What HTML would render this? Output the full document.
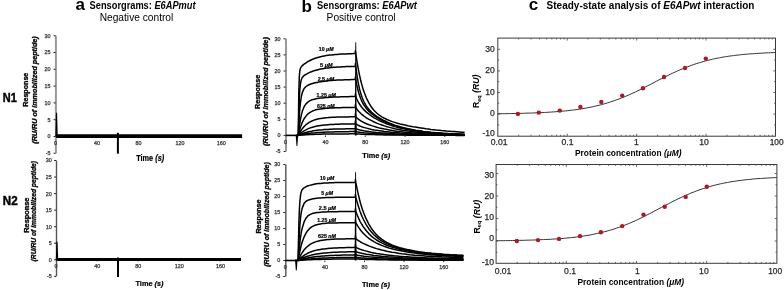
<!DOCTYPE html>
<html><head><meta charset="utf-8"><style>
html,body{margin:0;padding:0;background:#fff;}
body{width:784px;height:290px;overflow:hidden;position:relative;}
svg{display:block;position:absolute;left:0;top:0;font-family:"Liberation Sans", sans-serif;}
#m{filter:grayscale(1);}
</style></head><body>
<svg id="m" width="784" height="290" viewBox="0 0 784 290">
<rect width="784" height="290" fill="#fff"/>
<text x="75.6" y="10" font-size="17" font-weight="bold">a</text>
<text x="301.6" y="11.7" font-size="17" font-weight="bold">b</text>
<text x="528.7" y="10" font-size="17" font-weight="bold">c</text>
<text x="89.6" y="8.9" font-size="10.2" font-weight="bold" textLength="106" lengthAdjust="spacingAndGlyphs">Sensorgrams: <tspan font-style="italic">E6APmut</tspan></text>
<text x="99.7" y="21.1" font-size="10.2" textLength="73.6" lengthAdjust="spacingAndGlyphs">Negative control</text>
<text x="317.1" y="8.9" font-size="10.2" font-weight="bold" textLength="99.8" lengthAdjust="spacingAndGlyphs">Sensorgrams: <tspan font-style="italic">E6APwt</tspan></text>
<text x="326.6" y="21.1" font-size="10.2" textLength="69" lengthAdjust="spacingAndGlyphs">Positive control</text>
<text x="546.6" y="9" font-size="10.2" font-weight="bold" textLength="207.8" lengthAdjust="spacingAndGlyphs">Steady-state analysis of <tspan font-style="italic">E6APwt</tspan> interaction</text>
<text x="2.8" y="102" font-size="12.4" font-weight="bold" textLength="14" lengthAdjust="spacingAndGlyphs" stroke="#000" stroke-width="0.45">N1</text>
<text x="2.8" y="205.2" font-size="12.2" font-weight="bold" textLength="14.8" lengthAdjust="spacingAndGlyphs" stroke="#000" stroke-width="0.45">N2</text>
<line x1="55.9" y1="35.7" x2="55.9" y2="153.3" stroke="#999" stroke-width="2.0"/>
<line x1="53.6" y1="153.3" x2="55.6" y2="153.3" stroke="#222" stroke-width="1.0"/>
<text x="50.6" y="155.2" font-size="5.4" text-anchor="end" fill="#333" stroke="#333" stroke-width="0.25">-5</text>
<line x1="53.6" y1="136.5" x2="55.6" y2="136.5" stroke="#222" stroke-width="1.0"/>
<text x="50.6" y="138.4" font-size="5.4" text-anchor="end" fill="#333" stroke="#333" stroke-width="0.25">0</text>
<line x1="53.6" y1="119.7" x2="55.6" y2="119.7" stroke="#222" stroke-width="1.0"/>
<text x="50.6" y="121.6" font-size="5.4" text-anchor="end" fill="#333" stroke="#333" stroke-width="0.25">5</text>
<line x1="53.6" y1="102.9" x2="55.6" y2="102.9" stroke="#222" stroke-width="1.0"/>
<text x="50.6" y="104.8" font-size="5.4" text-anchor="end" fill="#333" stroke="#333" stroke-width="0.25">10</text>
<line x1="53.6" y1="86.1" x2="55.6" y2="86.1" stroke="#222" stroke-width="1.0"/>
<text x="50.6" y="88" font-size="5.4" text-anchor="end" fill="#333" stroke="#333" stroke-width="0.25">15</text>
<line x1="53.6" y1="69.3" x2="55.6" y2="69.3" stroke="#222" stroke-width="1.0"/>
<text x="50.6" y="71.2" font-size="5.4" text-anchor="end" fill="#333" stroke="#333" stroke-width="0.25">20</text>
<line x1="53.6" y1="52.5" x2="55.6" y2="52.5" stroke="#222" stroke-width="1.0"/>
<text x="50.6" y="54.4" font-size="5.4" text-anchor="end" fill="#333" stroke="#333" stroke-width="0.25">25</text>
<line x1="53.6" y1="35.7" x2="55.6" y2="35.7" stroke="#222" stroke-width="1.0"/>
<text x="50.6" y="37.6" font-size="5.4" text-anchor="end" fill="#333" stroke="#333" stroke-width="0.25">30</text>
<text x="55.6" y="145.1" font-size="5.4" text-anchor="middle" fill="#333" stroke="#333" stroke-width="0.25">0</text>
<line x1="97.04" y1="136.5" x2="97.04" y2="138.1" stroke="#222" stroke-width="0.9"/>
<text x="97.04" y="145.1" font-size="5.4" text-anchor="middle" fill="#333" stroke="#333" stroke-width="0.25">40</text>
<line x1="138.48" y1="136.5" x2="138.48" y2="138.1" stroke="#222" stroke-width="0.9"/>
<text x="138.48" y="145.1" font-size="5.4" text-anchor="middle" fill="#333" stroke="#333" stroke-width="0.25">80</text>
<line x1="179.92" y1="136.5" x2="179.92" y2="138.1" stroke="#222" stroke-width="0.9"/>
<text x="179.92" y="145.1" font-size="5.4" text-anchor="middle" fill="#333" stroke="#333" stroke-width="0.25">120</text>
<line x1="221.36" y1="136.5" x2="221.36" y2="138.1" stroke="#222" stroke-width="0.9"/>
<text x="221.36" y="145.1" font-size="5.4" text-anchor="middle" fill="#333" stroke="#333" stroke-width="0.25">160</text>
<path d="M55.33,136.50 L57.73,136.50 L57.08,112.80 L55.98,112.80 Z" fill="#000"/>
<path d="M56.1,136.1 242.1,136.1" fill="none" stroke="#000" stroke-width="3.6" stroke-linejoin="round"/>
<line x1="117.9" y1="132.8" x2="117.9" y2="153.7" stroke="#000" stroke-width="2.0"/>
<text x="136.2" y="161" font-size="8.2" font-weight="bold" textLength="28" lengthAdjust="spacingAndGlyphs" stroke="#000" stroke-width="0.2">Time <tspan font-style="italic">(s)</tspan></text>
<text x="28" y="89.7" font-size="6.5" font-weight="bold" text-anchor="middle" transform="rotate(-90 28 89.7)" textLength="34" lengthAdjust="spacingAndGlyphs" stroke="#000" stroke-width="0.3">Response</text>
<text x="36.6" y="90" font-size="6.5" font-weight="bold" font-style="italic" text-anchor="middle" transform="rotate(-90 36.6 90)" textLength="107.5" lengthAdjust="spacingAndGlyphs" stroke="#000" stroke-width="0.3">(RU/RU of immobilized peptide)</text>
<line x1="56.5" y1="160.5" x2="56.5" y2="276.35" stroke="#555" stroke-width="1.4"/>
<line x1="54.1" y1="276.35" x2="56.1" y2="276.35" stroke="#222" stroke-width="1.0"/>
<text x="51.7" y="278.25" font-size="5.4" text-anchor="end" fill="#333" stroke="#333" stroke-width="0.25">-5</text>
<line x1="54.1" y1="259.8" x2="56.1" y2="259.8" stroke="#222" stroke-width="1.0"/>
<text x="51.7" y="261.7" font-size="5.4" text-anchor="end" fill="#333" stroke="#333" stroke-width="0.25">0</text>
<line x1="54.1" y1="243.25" x2="56.1" y2="243.25" stroke="#222" stroke-width="1.0"/>
<text x="51.7" y="245.15" font-size="5.4" text-anchor="end" fill="#333" stroke="#333" stroke-width="0.25">5</text>
<line x1="54.1" y1="226.7" x2="56.1" y2="226.7" stroke="#222" stroke-width="1.0"/>
<text x="51.7" y="228.6" font-size="5.4" text-anchor="end" fill="#333" stroke="#333" stroke-width="0.25">10</text>
<line x1="54.1" y1="210.15" x2="56.1" y2="210.15" stroke="#222" stroke-width="1.0"/>
<text x="51.7" y="212.05" font-size="5.4" text-anchor="end" fill="#333" stroke="#333" stroke-width="0.25">15</text>
<line x1="54.1" y1="193.6" x2="56.1" y2="193.6" stroke="#222" stroke-width="1.0"/>
<text x="51.7" y="195.5" font-size="5.4" text-anchor="end" fill="#333" stroke="#333" stroke-width="0.25">20</text>
<line x1="54.1" y1="177.05" x2="56.1" y2="177.05" stroke="#222" stroke-width="1.0"/>
<text x="51.7" y="178.95" font-size="5.4" text-anchor="end" fill="#333" stroke="#333" stroke-width="0.25">25</text>
<line x1="54.1" y1="160.5" x2="56.1" y2="160.5" stroke="#222" stroke-width="1.0"/>
<text x="51.7" y="162.4" font-size="5.4" text-anchor="end" fill="#333" stroke="#333" stroke-width="0.25">30</text>
<text x="56.1" y="268.4" font-size="5.4" text-anchor="middle" fill="#333" stroke="#333" stroke-width="0.25">0</text>
<line x1="97.18" y1="259.8" x2="97.18" y2="261.4" stroke="#222" stroke-width="0.9"/>
<text x="97.18" y="268.4" font-size="5.4" text-anchor="middle" fill="#333" stroke="#333" stroke-width="0.25">40</text>
<line x1="138.26" y1="259.8" x2="138.26" y2="261.4" stroke="#222" stroke-width="0.9"/>
<text x="138.26" y="268.4" font-size="5.4" text-anchor="middle" fill="#333" stroke="#333" stroke-width="0.25">80</text>
<line x1="179.34" y1="259.8" x2="179.34" y2="261.4" stroke="#222" stroke-width="0.9"/>
<text x="179.34" y="268.4" font-size="5.4" text-anchor="middle" fill="#333" stroke="#333" stroke-width="0.25">120</text>
<line x1="220.42" y1="259.8" x2="220.42" y2="261.4" stroke="#222" stroke-width="0.9"/>
<text x="220.42" y="268.4" font-size="5.4" text-anchor="middle" fill="#333" stroke="#333" stroke-width="0.25">160</text>
<path d="M55.82,259.80 L58.22,259.80 L57.57,241.80 L56.47,241.80 Z" fill="#000"/>
<path d="M56.6,259.4 241.0,259.4" fill="none" stroke="#000" stroke-width="3.0" stroke-linejoin="round"/>
<line x1="118" y1="257.5" x2="118" y2="277" stroke="#000" stroke-width="2.0"/>
<text x="135.5" y="286.2" font-size="7.0" font-weight="bold" textLength="28" lengthAdjust="spacingAndGlyphs" stroke="#000" stroke-width="0.2">Time <tspan font-style="italic">(s)</tspan></text>
<text x="28.8" y="215.2" font-size="6.5" font-weight="bold" text-anchor="middle" transform="rotate(-90 28.8 215.2)" textLength="35" lengthAdjust="spacingAndGlyphs" stroke="#000" stroke-width="0.3">Response</text>
<text x="36.4" y="211.2" font-size="6.5" font-weight="bold" font-style="italic" text-anchor="middle" transform="rotate(-90 36.4 211.2)" textLength="100.4" lengthAdjust="spacingAndGlyphs" stroke="#000" stroke-width="0.3">(RU/RU of immobilized peptide)</text>
<line x1="286" y1="38.8" x2="286" y2="151.5" stroke="#999" stroke-width="2.0"/>
<line x1="283.6" y1="151.5" x2="285.6" y2="151.5" stroke="#222" stroke-width="1.0"/>
<text x="280.6" y="153.4" font-size="5.4" text-anchor="end" fill="#333" stroke="#333" stroke-width="0.25">-5</text>
<line x1="283.6" y1="135.4" x2="285.6" y2="135.4" stroke="#222" stroke-width="1.0"/>
<text x="280.6" y="137.3" font-size="5.4" text-anchor="end" fill="#333" stroke="#333" stroke-width="0.25">0</text>
<line x1="283.6" y1="119.3" x2="285.6" y2="119.3" stroke="#222" stroke-width="1.0"/>
<text x="280.6" y="121.2" font-size="5.4" text-anchor="end" fill="#333" stroke="#333" stroke-width="0.25">5</text>
<line x1="283.6" y1="103.2" x2="285.6" y2="103.2" stroke="#222" stroke-width="1.0"/>
<text x="280.6" y="105.1" font-size="5.4" text-anchor="end" fill="#333" stroke="#333" stroke-width="0.25">10</text>
<line x1="283.6" y1="87.1" x2="285.6" y2="87.1" stroke="#222" stroke-width="1.0"/>
<text x="280.6" y="89" font-size="5.4" text-anchor="end" fill="#333" stroke="#333" stroke-width="0.25">15</text>
<line x1="283.6" y1="71" x2="285.6" y2="71" stroke="#222" stroke-width="1.0"/>
<text x="280.6" y="72.9" font-size="5.4" text-anchor="end" fill="#333" stroke="#333" stroke-width="0.25">20</text>
<line x1="283.6" y1="54.9" x2="285.6" y2="54.9" stroke="#222" stroke-width="1.0"/>
<text x="280.6" y="56.8" font-size="5.4" text-anchor="end" fill="#333" stroke="#333" stroke-width="0.25">25</text>
<line x1="283.6" y1="38.8" x2="285.6" y2="38.8" stroke="#222" stroke-width="1.0"/>
<text x="280.6" y="40.7" font-size="5.4" text-anchor="end" fill="#333" stroke="#333" stroke-width="0.25">30</text>
<text x="285.6" y="144" font-size="5.4" text-anchor="middle" fill="#333" stroke="#333" stroke-width="0.25">0</text>
<line x1="325.4" y1="135.4" x2="325.4" y2="137" stroke="#222" stroke-width="0.9"/>
<text x="325.4" y="144" font-size="5.4" text-anchor="middle" fill="#333" stroke="#333" stroke-width="0.25">40</text>
<line x1="365.2" y1="135.4" x2="365.2" y2="137" stroke="#222" stroke-width="0.9"/>
<text x="365.2" y="144" font-size="5.4" text-anchor="middle" fill="#333" stroke="#333" stroke-width="0.25">80</text>
<line x1="405" y1="135.4" x2="405" y2="137" stroke="#222" stroke-width="0.9"/>
<text x="405" y="144" font-size="5.4" text-anchor="middle" fill="#333" stroke="#333" stroke-width="0.25">120</text>
<line x1="444.8" y1="135.4" x2="444.8" y2="137" stroke="#222" stroke-width="0.9"/>
<text x="444.8" y="144" font-size="5.4" text-anchor="middle" fill="#333" stroke="#333" stroke-width="0.25">160</text>
<path d="M298.3,135.4 298.3,135.4 298.6,108.7 298.8,92.6 299.1,82.9 299.3,77.0 299.6,73.3 299.8,71.1 300.1,69.6 300.3,68.6 300.6,68.0 300.8,67.5 301.1,67.1 301.3,66.7 301.6,66.5 301.8,66.2 302.1,65.9 302.3,65.7 304.1,64.2 306.0,62.9 307.8,61.7 309.6,60.7 311.5,59.8 313.3,59.0 315.1,58.3 317.0,57.7 318.8,57.2 320.6,56.7 322.5,56.3 324.3,55.9 326.1,55.6 328.0,55.3 329.8,55.1 331.6,54.9 333.5,54.7 335.3,54.5 337.1,54.4 339.0,54.2 340.8,54.1 342.6,54.0 344.5,53.9 346.3,53.9 348.1,53.8 350.0,53.7 351.8,53.7 353.6,53.6 355.4,53.6 355.4,50.7 355.8,53.6 356.3,57.0 356.8,60.3 357.3,63.4 357.8,66.3 358.3,69.0 358.8,71.6 359.3,74.1 359.8,76.4 360.3,78.7 360.8,80.8 361.3,82.7 361.8,84.6 362.3,86.4 362.8,88.1 363.3,89.7 363.8,91.2 366.4,98.0 369.0,103.2 371.6,107.3 374.1,110.5 376.7,113.0 379.3,115.1 381.9,116.8 384.5,118.3 387.1,119.5 389.7,120.6 392.2,121.6 394.8,122.4 397.4,123.2 400.0,123.9 402.6,124.5 405.2,125.1 407.7,125.7 410.3,126.2 412.9,126.7 415.5,127.1 418.1,127.5 420.7,127.9 423.2,128.3 425.8,128.7 428.4,129.0 431.0,129.4 433.6,129.7 436.2,130.0 438.8,130.2 441.3,130.5 443.9,130.7 446.5,131.0 449.1,131.2 451.7,131.4 454.3,131.6 456.8,131.8 459.4,132.0 462.0,132.2 464.6,132.3" fill="none" stroke="#000" stroke-width="1.5" stroke-linejoin="round"/>
<path d="M298.3,135.4 298.3,135.4 298.6,122.3 298.8,112.1 299.1,104.3 299.3,98.3 299.6,93.6 299.8,89.9 300.1,87.1 300.3,84.9 300.6,83.1 300.8,81.7 301.1,80.6 301.3,79.7 301.6,79.0 301.8,78.4 302.1,77.9 302.3,77.4 304.1,75.5 306.0,74.3 307.8,73.3 309.6,72.4 311.5,71.7 313.3,71.0 315.1,70.4 317.0,69.9 318.8,69.5 320.6,69.1 322.5,68.7 324.3,68.4 326.1,68.1 328.0,67.9 329.8,67.7 331.6,67.5 333.5,67.3 335.3,67.2 337.1,67.1 339.0,67.0 340.8,66.9 342.6,66.8 344.5,66.7 346.3,66.6 348.1,66.6 350.0,66.5 351.8,66.5 353.6,66.5 355.4,66.4 355.4,63.5 355.8,66.4 356.3,70.4 356.8,74.1 357.3,77.4 357.8,80.4 358.3,83.1 358.8,85.6 359.3,87.8 359.8,89.9 360.3,91.8 360.8,93.5 361.3,95.1 361.8,96.6 362.3,98.0 362.8,99.2 363.3,100.4 363.8,101.5 366.4,106.1 369.0,109.5 371.6,112.2 374.1,114.4 376.7,116.3 379.3,118.0 381.9,119.4 384.5,120.8 387.1,122.0 389.7,123.1 392.2,124.1 394.8,125.1 397.4,125.9 400.0,126.7 402.6,127.4 405.2,128.1 407.7,128.7 410.3,129.2 412.9,129.7 415.5,130.2 418.1,130.6 420.7,131.0 423.2,131.4 425.8,131.7 428.4,132.0 431.0,132.3 433.6,132.5 436.2,132.8 438.8,133.0 441.3,133.2 443.9,133.4 446.5,133.5 449.1,133.7 451.7,133.8 454.3,134.0 456.8,134.1 459.4,134.2 462.0,134.3 464.6,134.4" fill="none" stroke="#000" stroke-width="1.5" stroke-linejoin="round"/>
<path d="M298.3,135.4 298.3,135.4 298.6,129.3 298.8,124.1 299.1,119.5 299.3,115.4 299.6,111.9 299.8,108.8 300.1,106.1 300.3,103.7 300.6,101.7 300.8,99.8 301.1,98.2 301.3,96.8 301.6,95.6 301.8,94.5 302.1,93.5 302.3,92.6 304.1,88.5 306.0,86.5 307.8,85.3 309.6,84.5 311.5,83.8 313.3,83.3 315.1,82.8 317.0,82.4 318.8,82.0 320.6,81.7 322.5,81.4 324.3,81.2 326.1,81.0 328.0,80.8 329.8,80.6 331.6,80.4 333.5,80.3 335.3,80.2 337.1,80.1 339.0,80.0 340.8,79.9 342.6,79.9 344.5,79.8 346.3,79.8 348.1,79.7 350.0,79.7 351.8,79.6 353.6,79.6 355.4,79.6 355.4,76.7 355.8,79.6 356.3,82.3 356.8,84.9 357.3,87.2 357.8,89.3 358.3,91.2 358.8,93.0 359.3,94.6 359.8,96.1 360.3,97.5 360.8,98.8 361.3,100.0 361.8,101.1 362.3,102.1 362.8,103.1 363.3,104.0 363.8,104.8 366.4,108.5 369.0,111.4 371.6,113.7 374.1,115.7 376.7,117.4 379.3,118.9 381.9,120.3 384.5,121.6 387.1,122.7 389.7,123.8 392.2,124.7 394.8,125.6 397.4,126.4 400.0,127.2 402.6,127.8 405.2,128.5 407.7,129.0 410.3,129.5 412.9,130.0 415.5,130.5 418.1,130.9 420.7,131.2 423.2,131.6 425.8,131.9 428.4,132.2 431.0,132.5 433.6,132.7 436.2,132.9 438.8,133.1 441.3,133.3 443.9,133.5 446.5,133.6 449.1,133.8 451.7,133.9 454.3,134.0 456.8,134.1 459.4,134.3 462.0,134.3 464.6,134.4" fill="none" stroke="#000" stroke-width="1.5" stroke-linejoin="round"/>
<path d="M298.3,135.4 298.3,135.4 298.6,132.9 298.8,130.7 299.1,128.5 299.3,126.6 299.6,124.7 299.8,123.0 300.1,121.5 300.3,120.0 300.6,118.6 300.8,117.3 301.1,116.2 301.3,115.1 301.6,114.0 301.8,113.1 302.1,112.2 302.3,111.3 304.1,106.7 306.0,103.9 307.8,102.1 309.6,100.9 311.5,100.0 313.3,99.4 315.1,99.0 317.0,98.6 318.8,98.3 320.6,98.1 322.5,97.9 324.3,97.7 326.1,97.5 328.0,97.4 329.8,97.3 331.6,97.2 333.5,97.1 335.3,97.0 337.1,96.9 339.0,96.9 340.8,96.8 342.6,96.8 344.5,96.7 346.3,96.7 348.1,96.7 350.0,96.6 351.8,96.6 353.6,96.6 355.4,96.6 355.4,93.7 355.8,96.6 356.3,97.8 356.8,99.0 357.3,100.1 357.8,101.1 358.3,102.0 358.8,102.9 359.3,103.8 359.8,104.5 360.3,105.3 360.8,106.0 361.3,106.7 361.8,107.3 362.3,107.9 362.8,108.5 363.3,109.1 363.8,109.6 366.4,112.1 369.0,114.2 371.6,116.1 374.1,117.8 376.7,119.2 379.3,120.6 381.9,121.8 384.5,122.9 387.1,124.0 389.7,124.9 392.2,125.8 394.8,126.6 397.4,127.3 400.0,128.0 402.6,128.6 405.2,129.1 407.7,129.6 410.3,130.1 412.9,130.5 415.5,130.9 418.1,131.3 420.7,131.6 423.2,132.0 425.8,132.2 428.4,132.5 431.0,132.7 433.6,133.0 436.2,133.2 438.8,133.3 441.3,133.5 443.9,133.7 446.5,133.8 449.1,133.9 451.7,134.1 454.3,134.2 456.8,134.3 459.4,134.4 462.0,134.4 464.6,134.5" fill="none" stroke="#000" stroke-width="1.5" stroke-linejoin="round"/>
<path d="M298.3,135.4 298.3,135.4 298.6,134.3 298.8,133.2 299.1,132.2 299.3,131.2 299.6,130.3 299.8,129.4 300.1,128.6 300.3,127.7 300.6,127.0 300.8,126.2 301.1,125.5 301.3,124.8 301.6,124.1 301.8,123.5 302.1,122.9 302.3,122.3 304.1,118.7 306.0,116.1 307.8,114.1 309.6,112.7 311.5,111.6 313.3,110.7 315.1,110.1 317.0,109.6 318.8,109.2 320.6,108.9 322.5,108.7 324.3,108.5 326.1,108.3 328.0,108.2 329.8,108.1 331.6,108.0 333.5,107.9 335.3,107.8 337.1,107.8 339.0,107.7 340.8,107.7 342.6,107.6 344.5,107.6 346.3,107.6 348.1,107.6 350.0,107.5 351.8,107.5 353.6,107.5 355.4,107.5 355.4,104.6 355.8,107.5 356.3,108.3 356.8,109.0 357.3,109.7 357.8,110.3 358.3,110.9 358.8,111.5 359.3,112.0 359.8,112.5 360.3,113.0 360.8,113.5 361.3,114.0 361.8,114.4 362.3,114.8 362.8,115.2 363.3,115.6 363.8,116.0 366.4,117.8 369.0,119.3 371.6,120.7 374.1,122.0 376.7,123.1 379.3,124.1 381.9,125.0 384.5,125.9 387.1,126.7 389.7,127.4 392.2,128.1 394.8,128.7 397.4,129.2 400.0,129.7 402.6,130.2 405.2,130.6 407.7,131.0 410.3,131.4 412.9,131.7 415.5,132.0 418.1,132.3 420.7,132.5 423.2,132.8 425.8,133.0 428.4,133.2 431.0,133.4 433.6,133.5 436.2,133.7 438.8,133.8 441.3,134.0 443.9,134.1 446.5,134.2 449.1,134.3 451.7,134.4 454.3,134.5 456.8,134.5 459.4,134.6 462.0,134.7 464.6,134.7" fill="none" stroke="#000" stroke-width="1.5" stroke-linejoin="round"/>
<path d="M298.3,135.4 298.3,135.4 298.6,134.9 298.8,134.4 299.1,133.9 299.3,133.4 299.6,133.0 299.8,132.5 300.1,132.1 300.3,131.7 300.6,131.3 300.8,130.9 301.1,130.5 301.3,130.1 301.6,129.7 301.8,129.4 302.1,129.0 302.3,128.7 304.1,126.5 306.0,124.7 307.8,123.3 309.6,122.1 311.5,121.2 313.3,120.4 315.1,119.8 317.0,119.2 318.8,118.8 320.6,118.5 322.5,118.2 324.3,117.9 326.1,117.7 328.0,117.6 329.8,117.4 331.6,117.3 333.5,117.2 335.3,117.2 337.1,117.1 339.0,117.0 340.8,117.0 342.6,117.0 344.5,116.9 346.3,116.9 348.1,116.9 350.0,116.8 351.8,116.8 353.6,116.8 355.4,116.8 355.4,113.9 355.8,116.8 356.3,117.3 356.8,117.8 357.3,118.2 357.8,118.7 358.3,119.1 358.8,119.5 359.3,119.8 359.8,120.2 360.3,120.5 360.8,120.8 361.3,121.1 361.8,121.4 362.3,121.7 362.8,122.0 363.3,122.2 363.8,122.5 366.4,123.7 369.0,124.7 371.6,125.6 374.1,126.4 376.7,127.2 379.3,127.9 381.9,128.5 384.5,129.1 387.1,129.6 389.7,130.1 392.2,130.5 394.8,130.9 397.4,131.3 400.0,131.6 402.6,131.9 405.2,132.2 407.7,132.5 410.3,132.7 412.9,132.9 415.5,133.1 418.1,133.3 420.7,133.5 423.2,133.6 425.8,133.8 428.4,133.9 431.0,134.0 433.6,134.2 436.2,134.3 438.8,134.4 441.3,134.4 443.9,134.5 446.5,134.6 449.1,134.7 451.7,134.7 454.3,134.8 456.8,134.8 459.4,134.9 462.0,134.9 464.6,135.0" fill="none" stroke="#000" stroke-width="1.5" stroke-linejoin="round"/>
<path d="M298.3,135.4 298.3,135.4 298.6,135.2 298.8,134.9 299.1,134.7 299.3,134.4 299.6,134.2 299.8,134.0 300.1,133.8 300.3,133.6 300.6,133.3 300.8,133.1 301.1,132.9 301.3,132.7 301.6,132.5 301.8,132.4 302.1,132.2 302.3,132.0 304.1,130.8 306.0,129.8 307.8,128.9 309.6,128.1 311.5,127.5 313.3,127.0 315.1,126.5 317.0,126.1 318.8,125.8 320.6,125.5 322.5,125.2 324.3,125.0 326.1,124.9 328.0,124.7 329.8,124.6 331.6,124.5 333.5,124.4 335.3,124.3 337.1,124.2 339.0,124.2 340.8,124.1 342.6,124.1 344.5,124.0 346.3,124.0 348.1,124.0 350.0,124.0 351.8,123.9 353.6,123.9 355.4,123.9 355.4,121.0 355.8,123.9 356.3,124.2 356.8,124.5 357.3,124.8 357.8,125.1 358.3,125.3 358.8,125.5 359.3,125.8 359.8,126.0 360.3,126.2 360.8,126.4 361.3,126.6 361.8,126.8 362.3,126.9 362.8,127.1 363.3,127.3 363.8,127.4 366.4,128.1 369.0,128.8 371.6,129.4 374.1,129.9 376.7,130.3 379.3,130.7 381.9,131.1 384.5,131.5 387.1,131.8 389.7,132.1 392.2,132.4 394.8,132.6 397.4,132.8 400.0,133.1 402.6,133.3 405.2,133.4 407.7,133.6 410.3,133.7 412.9,133.9 415.5,134.0 418.1,134.1 420.7,134.2 423.2,134.3 425.8,134.4 428.4,134.5 431.0,134.6 433.6,134.6 436.2,134.7 438.8,134.8 441.3,134.8 443.9,134.9 446.5,134.9 449.1,134.9 451.7,135.0 454.3,135.0 456.8,135.0 459.4,135.1 462.0,135.1 464.6,135.1" fill="none" stroke="#000" stroke-width="1.5" stroke-linejoin="round"/>
<path d="M298.3,135.4 298.3,135.4 298.6,135.3 298.8,135.2 299.1,135.0 299.3,134.9 299.6,134.8 299.8,134.7 300.1,134.6 300.3,134.5 300.6,134.4 300.8,134.3 301.1,134.1 301.3,134.0 301.6,133.9 301.8,133.8 302.1,133.8 302.3,133.7 304.1,133.0 306.0,132.5 307.8,132.0 309.6,131.5 311.5,131.2 313.3,130.8 315.1,130.6 317.0,130.3 318.8,130.1 320.6,129.9 322.5,129.8 324.3,129.6 326.1,129.5 328.0,129.4 329.8,129.3 331.6,129.2 333.5,129.1 335.3,129.1 337.1,129.0 339.0,129.0 340.8,128.9 342.6,128.9 344.5,128.9 346.3,128.8 348.1,128.8 350.0,128.8 351.8,128.8 353.6,128.7 355.4,128.7 355.4,125.8 355.8,128.7 356.3,128.9 356.8,129.1 357.3,129.2 357.8,129.4 358.3,129.5 358.8,129.7 359.3,129.8 359.8,129.9 360.3,130.1 360.8,130.2 361.3,130.3 361.8,130.4 362.3,130.5 362.8,130.6 363.3,130.7 363.8,130.8 366.4,131.2 369.0,131.6 371.6,131.9 374.1,132.2 376.7,132.5 379.3,132.7 381.9,132.9 384.5,133.1 387.1,133.3 389.7,133.5 392.2,133.6 394.8,133.8 397.4,133.9 400.0,134.0 402.6,134.2 405.2,134.3 407.7,134.4 410.3,134.4 412.9,134.5 415.5,134.6 418.1,134.7 420.7,134.7 423.2,134.8 425.8,134.8 428.4,134.9 431.0,134.9 433.6,135.0 436.2,135.0 438.8,135.0 441.3,135.1 443.9,135.1 446.5,135.1 449.1,135.1 451.7,135.2 454.3,135.2 456.8,135.2 459.4,135.2 462.0,135.2 464.6,135.2" fill="none" stroke="#000" stroke-width="1.5" stroke-linejoin="round"/>
<path d="M298.3,135.4 298.3,135.4 298.6,135.3 298.8,135.3 299.1,135.2 299.3,135.1 299.6,135.1 299.8,135.0 300.1,135.0 300.3,134.9 300.6,134.9 300.8,134.8 301.1,134.7 301.3,134.7 301.6,134.6 301.8,134.6 302.1,134.5 302.3,134.5 304.1,134.1 306.0,133.8 307.8,133.6 309.6,133.3 311.5,133.1 313.3,132.9 315.1,132.8 317.0,132.6 318.8,132.5 320.6,132.4 322.5,132.3 324.3,132.2 326.1,132.1 328.0,132.0 329.8,132.0 331.6,131.9 333.5,131.9 335.3,131.8 337.1,131.8 339.0,131.8 340.8,131.7 342.6,131.7 344.5,131.7 346.3,131.7 348.1,131.7 350.0,131.6 351.8,131.6 353.6,131.6 355.4,131.6 355.4,128.7 355.8,131.6 356.3,131.7 356.8,131.8 357.3,131.9 357.8,132.0 358.3,132.1 358.8,132.2 359.3,132.2 359.8,132.3 360.3,132.4 360.8,132.4 361.3,132.5 361.8,132.6 362.3,132.6 362.8,132.7 363.3,132.7 363.8,132.8 366.4,133.0 369.0,133.2 371.6,133.4 374.1,133.6 376.7,133.7 379.3,133.9 381.9,134.0 384.5,134.1 387.1,134.2 389.7,134.3 392.2,134.4 394.8,134.5 397.4,134.6 400.0,134.6 402.6,134.7 405.2,134.8 407.7,134.8 410.3,134.9 412.9,134.9 415.5,134.9 418.1,135.0 420.7,135.0 423.2,135.0 425.8,135.1 428.4,135.1 431.0,135.1 433.6,135.1 436.2,135.2 438.8,135.2 441.3,135.2 443.9,135.2 446.5,135.2 449.1,135.2 451.7,135.3 454.3,135.3 456.8,135.3 459.4,135.3 462.0,135.3 464.6,135.3" fill="none" stroke="#000" stroke-width="1.5" stroke-linejoin="round"/>
<path d="M298.3,135.4 298.3,135.4 298.6,135.4 298.8,135.3 299.1,135.3 299.3,135.3 299.6,135.3 299.8,135.3 300.1,135.2 300.3,135.2 300.6,135.2 300.8,135.2 301.1,135.1 301.3,135.1 301.6,135.1 301.8,135.1 302.1,135.1 302.3,135.0 304.1,134.9 306.0,134.8 307.8,134.7 309.6,134.6 311.5,134.5 313.3,134.4 315.1,134.3 317.0,134.3 318.8,134.2 320.6,134.2 322.5,134.1 324.3,134.1 326.1,134.1 328.0,134.0 329.8,134.0 331.6,134.0 333.5,134.0 335.3,133.9 337.1,133.9 339.0,133.9 340.8,133.9 342.6,133.9 344.5,133.9 346.3,133.9 348.1,133.9 350.0,133.8 351.8,133.8 353.6,133.8 355.4,133.8 355.4,130.9 355.8,133.8 356.3,133.9 356.8,133.9 357.3,134.0 357.8,134.0 358.3,134.0 358.8,134.1 359.3,134.1 359.8,134.1 360.3,134.1 360.8,134.2 361.3,134.2 361.8,134.2 362.3,134.2 362.8,134.3 363.3,134.3 363.8,134.3 366.4,134.4 369.0,134.5 371.6,134.6 374.1,134.6 376.7,134.7 379.3,134.8 381.9,134.8 384.5,134.9 387.1,134.9 389.7,134.9 392.2,135.0 394.8,135.0 397.4,135.1 400.0,135.1 402.6,135.1 405.2,135.1 407.7,135.2 410.3,135.2 412.9,135.2 415.5,135.2 418.1,135.2 420.7,135.2 423.2,135.3 425.8,135.3 428.4,135.3 431.0,135.3 433.6,135.3 436.2,135.3 438.8,135.3 441.3,135.3 443.9,135.3 446.5,135.3 449.1,135.3 451.7,135.3 454.3,135.3 456.8,135.4 459.4,135.4 462.0,135.4 464.6,135.4" fill="none" stroke="#000" stroke-width="1.5" stroke-linejoin="round"/>
<line x1="285.6" y1="135.4" x2="298.84" y2="135.4" stroke="#000" stroke-width="1.6"/>
<path d="M295.64,134.43 L298.24,134.43 L297.39,146.03 L296.49,146.03 Z" fill="#000"/>
<path d="M354.85,135.40 L356.65,135.40 L356.20,42.34 L355.30,42.34 Z" fill="#000"/>
<text x="326.2" y="50.9" font-size="5.0" font-weight="bold" text-anchor="middle" textLength="14.8" lengthAdjust="spacingAndGlyphs" stroke="#000" stroke-width="0.2">10 <tspan font-style="italic">μM</tspan></text>
<text x="326.35" y="66.7" font-size="5.0" font-weight="bold" text-anchor="middle" textLength="12.5" lengthAdjust="spacingAndGlyphs" stroke="#000" stroke-width="0.2">5 <tspan font-style="italic">μM</tspan></text>
<text x="325.9" y="81.4" font-size="5.0" font-weight="bold" text-anchor="middle" textLength="16.4" lengthAdjust="spacingAndGlyphs" stroke="#000" stroke-width="0.2">2.5 <tspan font-style="italic">μM</tspan></text>
<text x="326.2" y="96.6" font-size="5.0" font-weight="bold" text-anchor="middle" textLength="19.2" lengthAdjust="spacingAndGlyphs" stroke="#000" stroke-width="0.2">1.25 <tspan font-style="italic">μM</tspan></text>
<text x="325.9" y="108" font-size="5.0" font-weight="bold" text-anchor="middle" textLength="17.6" lengthAdjust="spacingAndGlyphs" stroke="#000" stroke-width="0.2">625 <tspan font-style="italic">nM</tspan></text>
<text x="362.3" y="157.8" font-size="7.5" font-weight="bold" textLength="28" lengthAdjust="spacingAndGlyphs" stroke="#000" stroke-width="0.2">Time <tspan font-style="italic">(s)</tspan></text>
<text x="260.4" y="91.9" font-size="6.5" font-weight="bold" text-anchor="middle" transform="rotate(-90 260.4 91.9)" textLength="34.2" lengthAdjust="spacingAndGlyphs" stroke="#000" stroke-width="0.3">Response</text>
<text x="268.2" y="91.6" font-size="6.5" font-weight="bold" font-style="italic" text-anchor="middle" transform="rotate(-90 268.2 91.6)" textLength="108.9" lengthAdjust="spacingAndGlyphs" stroke="#000" stroke-width="0.3">(RU/RU of immobilized peptide)</text>
<line x1="285.8" y1="164.5" x2="285.8" y2="276.5" stroke="#666" stroke-width="1.6"/>
<line x1="283.3" y1="276.5" x2="285.3" y2="276.5" stroke="#222" stroke-width="1.0"/>
<text x="280.3" y="278.4" font-size="5.4" text-anchor="end" fill="#333" stroke="#333" stroke-width="0.25">-5</text>
<line x1="283.3" y1="260.5" x2="285.3" y2="260.5" stroke="#222" stroke-width="1.0"/>
<text x="280.3" y="262.4" font-size="5.4" text-anchor="end" fill="#333" stroke="#333" stroke-width="0.25">0</text>
<line x1="283.3" y1="244.5" x2="285.3" y2="244.5" stroke="#222" stroke-width="1.0"/>
<text x="280.3" y="246.4" font-size="5.4" text-anchor="end" fill="#333" stroke="#333" stroke-width="0.25">5</text>
<line x1="283.3" y1="228.5" x2="285.3" y2="228.5" stroke="#222" stroke-width="1.0"/>
<text x="280.3" y="230.4" font-size="5.4" text-anchor="end" fill="#333" stroke="#333" stroke-width="0.25">10</text>
<line x1="283.3" y1="212.5" x2="285.3" y2="212.5" stroke="#222" stroke-width="1.0"/>
<text x="280.3" y="214.4" font-size="5.4" text-anchor="end" fill="#333" stroke="#333" stroke-width="0.25">15</text>
<line x1="283.3" y1="196.5" x2="285.3" y2="196.5" stroke="#222" stroke-width="1.0"/>
<text x="280.3" y="198.4" font-size="5.4" text-anchor="end" fill="#333" stroke="#333" stroke-width="0.25">20</text>
<line x1="283.3" y1="180.5" x2="285.3" y2="180.5" stroke="#222" stroke-width="1.0"/>
<text x="280.3" y="182.4" font-size="5.4" text-anchor="end" fill="#333" stroke="#333" stroke-width="0.25">25</text>
<line x1="283.3" y1="164.5" x2="285.3" y2="164.5" stroke="#222" stroke-width="1.0"/>
<text x="280.3" y="166.4" font-size="5.4" text-anchor="end" fill="#333" stroke="#333" stroke-width="0.25">30</text>
<text x="285.3" y="269.1" font-size="5.4" text-anchor="middle" fill="#333" stroke="#333" stroke-width="0.25">0</text>
<line x1="324.9" y1="260.5" x2="324.9" y2="262.1" stroke="#222" stroke-width="0.9"/>
<text x="324.9" y="269.1" font-size="5.4" text-anchor="middle" fill="#333" stroke="#333" stroke-width="0.25">40</text>
<line x1="364.5" y1="260.5" x2="364.5" y2="262.1" stroke="#222" stroke-width="0.9"/>
<text x="364.5" y="269.1" font-size="5.4" text-anchor="middle" fill="#333" stroke="#333" stroke-width="0.25">80</text>
<line x1="404.1" y1="260.5" x2="404.1" y2="262.1" stroke="#222" stroke-width="0.9"/>
<text x="404.1" y="269.1" font-size="5.4" text-anchor="middle" fill="#333" stroke="#333" stroke-width="0.25">120</text>
<line x1="443.7" y1="260.5" x2="443.7" y2="262.1" stroke="#222" stroke-width="0.9"/>
<text x="443.7" y="269.1" font-size="5.4" text-anchor="middle" fill="#333" stroke="#333" stroke-width="0.25">160</text>
<path d="M298.2,260.5 298.2,260.5 298.4,244.4 298.7,232.0 298.9,222.4 299.2,214.9 299.4,209.2 299.7,204.7 299.9,201.2 300.2,198.5 300.4,196.4 300.6,194.7 300.9,193.4 301.1,192.3 301.4,191.5 301.6,190.8 301.9,190.2 302.1,189.7 304.0,187.8 305.8,186.8 307.6,186.0 309.5,185.4 311.3,184.9 313.1,184.5 315.0,184.1 316.8,183.8 318.7,183.6 320.5,183.4 322.3,183.2 324.2,183.1 326.0,183.0 327.8,182.9 329.7,182.8 331.5,182.7 333.4,182.7 335.2,182.6 337.0,182.6 338.9,182.6 340.7,182.5 342.5,182.5 344.4,182.5 346.2,182.5 348.0,182.5 349.9,182.5 351.7,182.5 353.6,182.5 355.4,182.4 355.4,179.6 355.8,182.4 356.3,185.0 356.8,187.5 357.3,189.9 357.8,192.1 358.3,194.3 358.8,196.4 359.3,198.4 359.7,200.3 360.2,202.1 360.7,203.9 361.2,205.5 361.7,207.1 362.2,208.7 362.7,210.2 363.2,211.6 363.7,213.0 366.3,219.2 368.8,224.2 371.4,228.4 373.9,231.8 376.5,234.7 379.0,237.1 381.6,239.1 384.2,240.9 386.7,242.4 389.3,243.7 391.8,244.9 394.4,245.9 396.9,246.8 399.5,247.6 402.1,248.3 404.6,249.0 407.2,249.6 409.7,250.1 412.3,250.6 414.8,251.1 417.4,251.5 419.9,251.9 422.5,252.2 425.1,252.6 427.6,252.9 430.2,253.1 432.7,253.4 435.3,253.6 437.8,253.9 440.4,254.1 443.0,254.3 445.5,254.4 448.1,254.6 450.6,254.8 453.2,254.9 455.7,255.0 458.3,255.2 460.8,255.3 463.4,255.4" fill="none" stroke="#000" stroke-width="1.5" stroke-linejoin="round"/>
<path d="M298.2,260.5 298.2,260.5 298.4,253.1 298.7,246.7 298.9,241.1 299.2,236.2 299.4,231.9 299.7,228.1 299.9,224.8 300.2,221.9 300.4,219.4 300.6,217.2 300.9,215.2 301.1,213.5 301.4,212.0 301.6,210.6 301.9,209.5 302.1,208.4 304.0,203.6 305.8,201.5 307.6,200.4 309.5,199.7 311.3,199.2 313.1,198.8 315.0,198.5 316.8,198.3 318.7,198.1 320.5,197.9 322.3,197.8 324.2,197.7 326.0,197.6 327.8,197.5 329.7,197.5 331.5,197.4 333.4,197.4 335.2,197.3 337.0,197.3 338.9,197.3 340.7,197.2 342.5,197.2 344.4,197.2 346.2,197.2 348.0,197.2 349.9,197.2 351.7,197.2 353.6,197.2 355.4,197.2 355.4,194.3 355.8,197.2 356.3,199.1 356.8,200.9 357.3,202.7 357.8,204.4 358.3,206.0 358.8,207.5 359.3,209.0 359.7,210.4 360.2,211.8 360.7,213.1 361.2,214.4 361.7,215.6 362.2,216.8 362.7,217.9 363.2,219.0 363.7,220.0 366.3,224.8 368.8,228.7 371.4,232.0 373.9,234.8 376.5,237.1 379.0,239.1 381.6,240.8 384.2,242.3 386.7,243.6 389.3,244.7 391.8,245.8 394.4,246.7 396.9,247.5 399.5,248.2 402.1,248.9 404.6,249.5 407.2,250.1 409.7,250.6 412.3,251.0 414.8,251.5 417.4,251.9 419.9,252.2 422.5,252.6 425.1,252.9 427.6,253.2 430.2,253.4 432.7,253.7 435.3,253.9 437.8,254.1 440.4,254.3 443.0,254.5 445.5,254.7 448.1,254.8 450.6,255.0 453.2,255.1 455.7,255.2 458.3,255.4 460.8,255.5 463.4,255.6" fill="none" stroke="#000" stroke-width="1.5" stroke-linejoin="round"/>
<path d="M298.2,260.5 298.2,260.5 298.4,257.2 298.7,254.2 298.9,251.4 299.2,248.8 299.4,246.3 299.7,244.1 299.9,242.0 300.2,240.0 300.4,238.2 300.6,236.5 300.9,234.9 301.1,233.4 301.4,232.0 301.6,230.8 301.9,229.6 302.1,228.5 304.0,222.2 305.8,218.5 307.6,216.2 309.5,214.8 311.3,213.9 313.1,213.3 315.0,212.9 316.8,212.6 318.7,212.4 320.5,212.2 322.3,212.1 324.2,212.0 326.0,211.9 327.8,211.8 329.7,211.8 331.5,211.7 333.4,211.7 335.2,211.7 337.0,211.7 338.9,211.6 340.7,211.6 342.5,211.6 344.4,211.6 346.2,211.6 348.0,211.6 349.9,211.6 351.7,211.6 353.6,211.6 355.4,211.6 355.4,208.7 355.8,211.6 356.3,212.9 356.8,214.1 357.3,215.3 357.8,216.4 358.3,217.5 358.8,218.6 359.3,219.6 359.7,220.6 360.2,221.6 360.7,222.5 361.2,223.4 361.7,224.2 362.2,225.0 362.7,225.8 363.2,226.6 363.7,227.3 366.3,230.7 368.8,233.6 371.4,236.1 373.9,238.2 376.5,240.0 379.0,241.5 381.6,242.9 384.2,244.1 386.7,245.2 389.3,246.2 391.8,247.0 394.4,247.8 396.9,248.5 399.5,249.2 402.1,249.8 404.6,250.3 407.2,250.8 409.7,251.3 412.3,251.7 414.8,252.1 417.4,252.5 419.9,252.8 422.5,253.1 425.1,253.4 427.6,253.7 430.2,253.9 432.7,254.1 435.3,254.4 437.8,254.6 440.4,254.7 443.0,254.9 445.5,255.1 448.1,255.2 450.6,255.4 453.2,255.5 455.7,255.6 458.3,255.7 460.8,255.8 463.4,255.9" fill="none" stroke="#000" stroke-width="1.5" stroke-linejoin="round"/>
<path d="M298.2,260.5 298.2,260.5 298.4,259.0 298.7,257.5 298.9,256.1 299.2,254.7 299.4,253.4 299.7,252.2 299.9,251.0 300.2,249.9 300.4,248.8 300.6,247.7 300.9,246.7 301.1,245.8 301.4,244.8 301.6,243.9 301.9,243.1 302.1,242.3 304.0,237.2 305.8,233.5 307.6,230.7 309.5,228.7 311.3,227.2 313.1,226.1 315.0,225.3 316.8,224.7 318.7,224.2 320.5,223.9 322.3,223.6 324.2,223.4 326.0,223.3 327.8,223.1 329.7,223.1 331.5,223.0 333.4,222.9 335.2,222.9 337.0,222.9 338.9,222.8 340.7,222.8 342.5,222.8 344.4,222.8 346.2,222.8 348.0,222.8 349.9,222.8 351.7,222.8 353.6,222.8 355.4,222.8 355.4,219.9 355.8,222.8 356.3,223.6 356.8,224.5 357.3,225.3 357.8,226.1 358.3,226.8 358.8,227.6 359.3,228.3 359.7,229.0 360.2,229.6 360.7,230.3 361.2,230.9 361.7,231.5 362.2,232.1 362.7,232.6 363.2,233.2 363.7,233.7 366.3,236.2 368.8,238.3 371.4,240.1 373.9,241.7 376.5,243.1 379.0,244.3 381.6,245.4 384.2,246.4 386.7,247.3 389.3,248.1 391.8,248.8 394.4,249.5 396.9,250.1 399.5,250.6 402.1,251.1 404.6,251.6 407.2,252.0 409.7,252.4 412.3,252.8 414.8,253.1 417.4,253.5 419.9,253.7 422.5,254.0 425.1,254.3 427.6,254.5 430.2,254.7 432.7,254.9 435.3,255.1 437.8,255.3 440.4,255.4 443.0,255.6 445.5,255.7 448.1,255.9 450.6,256.0 453.2,256.1 455.7,256.2 458.3,256.3 460.8,256.4 463.4,256.5" fill="none" stroke="#000" stroke-width="1.5" stroke-linejoin="round"/>
<path d="M298.2,260.5 298.2,260.5 298.4,259.9 298.7,259.3 298.9,258.8 299.2,258.2 299.4,257.7 299.7,257.2 299.9,256.7 300.2,256.2 300.4,255.7 300.6,255.2 300.9,254.8 301.1,254.3 301.4,253.9 301.6,253.5 301.9,253.1 302.1,252.7 304.0,250.1 305.8,248.0 307.6,246.3 309.5,244.9 311.3,243.7 313.1,242.8 315.0,242.1 316.8,241.4 318.7,240.9 320.5,240.5 322.3,240.2 324.2,239.9 326.0,239.7 327.8,239.5 329.7,239.4 331.5,239.3 333.4,239.2 335.2,239.1 337.0,239.0 338.9,239.0 340.7,238.9 342.5,238.9 344.4,238.9 346.2,238.8 348.0,238.8 349.9,238.8 351.7,238.8 353.6,238.8 355.4,238.8 355.4,235.9 355.8,238.8 356.3,239.1 356.8,239.5 357.3,239.8 357.8,240.2 358.3,240.5 358.8,240.8 359.3,241.1 359.7,241.4 360.2,241.7 360.7,242.0 361.2,242.3 361.7,242.6 362.2,242.9 362.7,243.1 363.2,243.4 363.7,243.6 366.3,244.8 368.8,245.9 371.4,246.9 373.9,247.8 376.5,248.6 379.0,249.3 381.6,250.0 384.2,250.6 386.7,251.2 389.3,251.7 391.8,252.2 394.4,252.6 396.9,253.0 399.5,253.4 402.1,253.8 404.6,254.1 407.2,254.4 409.7,254.7 412.3,254.9 414.8,255.2 417.4,255.4 419.9,255.6 422.5,255.8 425.1,256.0 427.6,256.2 430.2,256.3 432.7,256.5 435.3,256.6 437.8,256.7 440.4,256.8 443.0,257.0 445.5,257.1 448.1,257.1 450.6,257.2 453.2,257.3 455.7,257.4 458.3,257.5 460.8,257.5 463.4,257.6" fill="none" stroke="#000" stroke-width="1.5" stroke-linejoin="round"/>
<path d="M298.2,260.5 298.2,260.5 298.4,260.2 298.7,260.0 298.9,259.7 299.2,259.4 299.4,259.2 299.7,259.0 299.9,258.7 300.2,258.5 300.4,258.3 300.6,258.0 300.9,257.8 301.1,257.6 301.4,257.4 301.6,257.2 301.9,257.0 302.1,256.8 304.0,255.4 305.8,254.3 307.6,253.3 309.5,252.4 311.3,251.7 313.1,251.1 315.0,250.6 316.8,250.1 318.7,249.7 320.5,249.4 322.3,249.1 324.2,248.9 326.0,248.7 327.8,248.5 329.7,248.3 331.5,248.2 333.4,248.1 335.2,248.0 337.0,247.9 338.9,247.8 340.7,247.8 342.5,247.7 344.4,247.7 346.2,247.6 348.0,247.6 349.9,247.6 351.7,247.5 353.6,247.5 355.4,247.5 355.4,244.6 355.8,247.5 356.3,247.7 356.8,247.9 357.3,248.1 357.8,248.3 358.3,248.5 358.8,248.7 359.3,248.9 359.7,249.1 360.2,249.3 360.7,249.4 361.2,249.6 361.7,249.8 362.2,249.9 362.7,250.1 363.2,250.2 363.7,250.4 366.3,251.1 368.8,251.8 371.4,252.4 373.9,252.9 376.5,253.4 379.0,253.8 381.6,254.2 384.2,254.6 386.7,254.9 389.3,255.2 391.8,255.5 394.4,255.8 396.9,256.0 399.5,256.3 402.1,256.5 404.6,256.7 407.2,256.8 409.7,257.0 412.3,257.2 414.8,257.3 417.4,257.5 419.9,257.6 422.5,257.7 425.1,257.8 427.6,257.9 430.2,258.0 432.7,258.1 435.3,258.2 437.8,258.2 440.4,258.3 443.0,258.4 445.5,258.4 448.1,258.5 450.6,258.5 453.2,258.6 455.7,258.6 458.3,258.7 460.8,258.7 463.4,258.8" fill="none" stroke="#000" stroke-width="1.5" stroke-linejoin="round"/>
<path d="M298.2,260.5 298.2,260.5 298.4,260.3 298.7,260.2 298.9,260.0 299.2,259.9 299.4,259.8 299.7,259.6 299.9,259.5 300.2,259.3 300.4,259.2 300.6,259.1 300.9,258.9 301.1,258.8 301.4,258.7 301.6,258.6 301.9,258.4 302.1,258.3 304.0,257.5 305.8,256.8 307.6,256.2 309.5,255.6 311.3,255.1 313.1,254.7 315.0,254.3 316.8,254.0 318.7,253.7 320.5,253.4 322.3,253.2 324.2,253.0 326.0,252.9 327.8,252.7 329.7,252.6 331.5,252.4 333.4,252.3 335.2,252.2 337.0,252.2 338.9,252.1 340.7,252.0 342.5,252.0 344.4,251.9 346.2,251.9 348.0,251.8 349.9,251.8 351.7,251.8 353.6,251.7 355.4,251.7 355.4,248.8 355.8,251.7 356.3,251.9 356.8,252.0 357.3,252.2 357.8,252.3 358.3,252.4 358.8,252.5 359.3,252.7 359.7,252.8 360.2,252.9 360.7,253.0 361.2,253.1 361.7,253.3 362.2,253.4 362.7,253.5 363.2,253.6 363.7,253.7 366.3,254.2 368.8,254.6 371.4,255.0 373.9,255.4 376.5,255.7 379.0,256.0 381.6,256.3 384.2,256.5 386.7,256.7 389.3,256.9 391.8,257.1 394.4,257.3 396.9,257.5 399.5,257.6 402.1,257.8 404.6,257.9 407.2,258.0 409.7,258.1 412.3,258.3 414.8,258.4 417.4,258.4 419.9,258.5 422.5,258.6 425.1,258.7 427.6,258.7 430.2,258.8 432.7,258.9 435.3,258.9 437.8,259.0 440.4,259.0 443.0,259.1 445.5,259.1 448.1,259.1 450.6,259.2 453.2,259.2 455.7,259.2 458.3,259.3 460.8,259.3 463.4,259.3" fill="none" stroke="#000" stroke-width="1.5" stroke-linejoin="round"/>
<path d="M298.2,260.5 298.2,260.5 298.4,260.4 298.7,260.3 298.9,260.2 299.2,260.1 299.4,260.1 299.7,260.0 299.9,259.9 300.2,259.8 300.4,259.7 300.6,259.7 300.9,259.6 301.1,259.5 301.4,259.4 301.6,259.4 301.9,259.3 302.1,259.2 304.0,258.7 305.8,258.3 307.6,257.9 309.5,257.6 311.3,257.3 313.1,257.0 315.0,256.8 316.8,256.6 318.7,256.4 320.5,256.2 322.3,256.0 324.2,255.9 326.0,255.8 327.8,255.7 329.7,255.6 331.5,255.5 333.4,255.4 335.2,255.3 337.0,255.3 338.9,255.2 340.7,255.2 342.5,255.1 344.4,255.1 346.2,255.1 348.0,255.0 349.9,255.0 351.7,255.0 353.6,254.9 355.4,254.9 355.4,252.0 355.8,254.9 356.3,255.0 356.8,255.1 357.3,255.2 357.8,255.3 358.3,255.4 358.8,255.4 359.3,255.5 359.7,255.6 360.2,255.7 360.7,255.8 361.2,255.8 361.7,255.9 362.2,256.0 362.7,256.0 363.2,256.1 363.7,256.2 366.3,256.5 368.8,256.8 371.4,257.0 373.9,257.2 376.5,257.4 379.0,257.6 381.6,257.8 384.2,258.0 386.7,258.1 389.3,258.2 391.8,258.4 394.4,258.5 396.9,258.6 399.5,258.7 402.1,258.8 404.6,258.9 407.2,258.9 409.7,259.0 412.3,259.1 414.8,259.1 417.4,259.2 419.9,259.2 422.5,259.3 425.1,259.3 427.6,259.4 430.2,259.4 432.7,259.5 435.3,259.5 437.8,259.5 440.4,259.6 443.0,259.6 445.5,259.6 448.1,259.6 450.6,259.7 453.2,259.7 455.7,259.7 458.3,259.7 460.8,259.7 463.4,259.8" fill="none" stroke="#000" stroke-width="1.5" stroke-linejoin="round"/>
<path d="M298.2,260.5 298.2,260.5 298.4,260.5 298.7,260.4 298.9,260.4 299.2,260.3 299.4,260.3 299.7,260.2 299.9,260.2 300.2,260.1 300.4,260.1 300.6,260.1 300.9,260.0 301.1,260.0 301.4,259.9 301.6,259.9 301.9,259.9 302.1,259.8 304.0,259.6 305.8,259.3 307.6,259.1 309.5,258.9 311.3,258.8 313.1,258.6 315.0,258.5 316.8,258.4 318.7,258.3 320.5,258.2 322.3,258.1 324.2,258.0 326.0,257.9 327.8,257.9 329.7,257.8 331.5,257.8 333.4,257.7 335.2,257.7 337.0,257.6 338.9,257.6 340.7,257.6 342.5,257.6 344.4,257.5 346.2,257.5 348.0,257.5 349.9,257.5 351.7,257.5 353.6,257.4 355.4,257.4 355.4,254.5 355.8,257.4 356.3,257.5 356.8,257.5 357.3,257.6 357.8,257.6 358.3,257.7 358.8,257.7 359.3,257.8 359.7,257.8 360.2,257.8 360.7,257.9 361.2,257.9 361.7,258.0 362.2,258.0 362.7,258.0 363.2,258.1 363.7,258.1 366.3,258.3 368.8,258.4 371.4,258.6 373.9,258.7 376.5,258.8 379.0,258.9 381.6,259.0 384.2,259.1 386.7,259.2 389.3,259.3 391.8,259.3 394.4,259.4 396.9,259.4 399.5,259.5 402.1,259.5 404.6,259.6 407.2,259.6 409.7,259.7 412.3,259.7 414.8,259.7 417.4,259.8 419.9,259.8 422.5,259.8 425.1,259.9 427.6,259.9 430.2,259.9 432.7,259.9 435.3,259.9 437.8,260.0 440.4,260.0 443.0,260.0 445.5,260.0 448.1,260.0 450.6,260.0 453.2,260.0 455.7,260.1 458.3,260.1 460.8,260.1 463.4,260.1" fill="none" stroke="#000" stroke-width="1.5" stroke-linejoin="round"/>
<path d="M298.2,260.5 298.2,260.5 298.4,260.5 298.7,260.5 298.9,260.4 299.2,260.4 299.4,260.4 299.7,260.4 299.9,260.3 300.2,260.3 300.4,260.3 300.6,260.3 300.9,260.3 301.1,260.2 301.4,260.2 301.6,260.2 301.9,260.2 302.1,260.2 304.0,260.0 305.8,259.9 307.6,259.8 309.5,259.7 311.3,259.7 313.1,259.6 315.0,259.5 316.8,259.5 318.7,259.4 320.5,259.4 322.3,259.3 324.2,259.3 326.0,259.2 327.8,259.2 329.7,259.2 331.5,259.2 333.4,259.1 335.2,259.1 337.0,259.1 338.9,259.1 340.7,259.1 342.5,259.0 344.4,259.0 346.2,259.0 348.0,259.0 349.9,259.0 351.7,259.0 353.6,259.0 355.4,259.0 355.4,256.1 355.8,259.0 356.3,259.0 356.8,259.0 357.3,259.0 357.8,259.1 358.3,259.1 358.8,259.1 359.3,259.1 359.7,259.2 360.2,259.2 360.7,259.2 361.2,259.2 361.7,259.2 362.2,259.3 362.7,259.3 363.2,259.3 363.7,259.3 366.3,259.4 368.8,259.5 371.4,259.5 373.9,259.6 376.5,259.7 379.0,259.7 381.6,259.8 384.2,259.8 386.7,259.8 389.3,259.9 391.8,259.9 394.4,259.9 396.9,260.0 399.5,260.0 402.1,260.0 404.6,260.0 407.2,260.1 409.7,260.1 412.3,260.1 414.8,260.1 417.4,260.1 419.9,260.2 422.5,260.2 425.1,260.2 427.6,260.2 430.2,260.2 432.7,260.2 435.3,260.2 437.8,260.2 440.4,260.2 443.0,260.3 445.5,260.3 448.1,260.3 450.6,260.3 453.2,260.3 455.7,260.3 458.3,260.3 460.8,260.3 463.4,260.3" fill="none" stroke="#000" stroke-width="1.5" stroke-linejoin="round"/>
<line x1="285.3" y1="260.5" x2="298.67" y2="260.5" stroke="#000" stroke-width="1.6"/>
<path d="M294.99,259.54 L297.59,259.54 L296.74,270.42 L295.84,270.42 Z" fill="#000"/>
<path d="M354.69,260.50 L356.49,260.50 L356.04,172.18 L355.14,172.18 Z" fill="#000"/>
<text x="327.1" y="180.2" font-size="5.0" font-weight="bold" text-anchor="middle" textLength="14.4" lengthAdjust="spacingAndGlyphs" stroke="#000" stroke-width="0.2">10 <tspan font-style="italic">μM</tspan></text>
<text x="327.15" y="194.7" font-size="5.0" font-weight="bold" text-anchor="middle" textLength="11.7" lengthAdjust="spacingAndGlyphs" stroke="#000" stroke-width="0.2">5 <tspan font-style="italic">μM</tspan></text>
<text x="327.4" y="210.1" font-size="5.0" font-weight="bold" text-anchor="middle" textLength="17.2" lengthAdjust="spacingAndGlyphs" stroke="#000" stroke-width="0.2">2.5 <tspan font-style="italic">μM</tspan></text>
<text x="326.65" y="221.7" font-size="5.0" font-weight="bold" text-anchor="middle" textLength="18.7" lengthAdjust="spacingAndGlyphs" stroke="#000" stroke-width="0.2">1.25 <tspan font-style="italic">μM</tspan></text>
<text x="327" y="238" font-size="5.0" font-weight="bold" text-anchor="middle" textLength="18" lengthAdjust="spacingAndGlyphs" stroke="#000" stroke-width="0.2">625 <tspan font-style="italic">nM</tspan></text>
<text x="362" y="287.2" font-size="6.8" font-weight="bold" textLength="28" lengthAdjust="spacingAndGlyphs" stroke="#000" stroke-width="0.2">Time <tspan font-style="italic">(s)</tspan></text>
<text x="261.4" y="216.5" font-size="6.5" font-weight="bold" text-anchor="middle" transform="rotate(-90 261.4 216.5)" textLength="34.1" lengthAdjust="spacingAndGlyphs" stroke="#000" stroke-width="0.3">Response</text>
<text x="268.8" y="214.5" font-size="6.5" font-weight="bold" font-style="italic" text-anchor="middle" transform="rotate(-90 268.8 214.5)" textLength="104.6" lengthAdjust="spacingAndGlyphs" stroke="#000" stroke-width="0.3">(RU/RU of immobilized peptide)</text>
<path d="M497.8,113.7 500.1,113.7 502.5,113.7 504.8,113.7 507.1,113.6 509.5,113.6 511.8,113.5 514.1,113.5 516.5,113.4 518.8,113.4 521.1,113.3 523.5,113.3 525.8,113.2 528.1,113.1 530.5,113.1 532.8,113.0 535.1,112.9 537.5,112.8 539.8,112.7 542.1,112.6 544.5,112.5 546.8,112.3 549.1,112.2 551.5,112.0 553.8,111.9 556.1,111.7 558.5,111.5 560.8,111.3 563.1,111.1 565.5,110.9 567.8,110.7 570.1,110.4 572.5,110.1 574.8,109.8 577.1,109.5 579.5,109.2 581.8,108.8 584.1,108.4 586.5,108.0 588.8,107.5 591.1,107.1 593.5,106.6 595.8,106.0 598.1,105.5 600.5,104.9 602.8,104.3 605.1,103.6 607.5,102.9 609.8,102.2 612.1,101.4 614.5,100.6 616.8,99.8 619.1,98.9 621.5,98.0 623.8,97.1 626.1,96.1 628.5,95.1 630.8,94.0 633.1,93.0 635.5,91.9 637.8,90.8 640.2,89.6 642.5,88.5 644.8,87.3 647.2,86.1 649.5,84.9 651.8,83.7 654.2,82.5 656.5,81.2 658.8,80.0 661.2,78.8 663.5,77.7 665.8,76.5 668.2,75.3 670.5,74.2 672.8,73.1 675.2,72.0 677.5,70.9 679.8,69.9 682.2,68.9 684.5,68.0 686.8,67.1 689.2,66.2 691.5,65.3 693.8,64.5 696.2,63.7 698.5,63.0 700.8,62.3 703.2,61.6 705.5,60.9 707.8,60.3 710.2,59.8 712.5,59.2 714.8,58.7 717.2,58.2 719.5,57.8 721.8,57.3 724.2,56.9 726.5,56.6 728.8,56.2 731.2,55.9 733.5,55.6 735.8,55.3 738.2,55.0 740.5,54.8 742.8,54.5 745.2,54.3 747.5,54.1 749.8,53.9 752.2,53.8 754.5,53.6 756.8,53.4 759.2,53.3 761.5,53.2 763.8,53.0 766.2,52.9 768.5,52.8 770.8,52.7 773.2,52.6 775.5,52.5" fill="none" stroke="#333" stroke-width="1.0" stroke-linejoin="round"/>
<rect x="497.8" y="38.1" width="277.7" height="98.1" fill="none" stroke="#3a3a3a" stroke-width="1.0"/>
<line x1="497.8" y1="124.9" x2="499.2" y2="124.9" stroke="#444" stroke-width="0.8"/>
<line x1="775.5" y1="124.9" x2="774.1" y2="124.9" stroke="#444" stroke-width="0.8"/>
<line x1="497.8" y1="114.1" x2="500" y2="114.1" stroke="#444" stroke-width="0.8"/>
<line x1="775.5" y1="114.1" x2="773.3" y2="114.1" stroke="#444" stroke-width="0.8"/>
<line x1="497.8" y1="103.3" x2="499.2" y2="103.3" stroke="#444" stroke-width="0.8"/>
<line x1="775.5" y1="103.3" x2="774.1" y2="103.3" stroke="#444" stroke-width="0.8"/>
<line x1="497.8" y1="92.5" x2="500" y2="92.5" stroke="#444" stroke-width="0.8"/>
<line x1="775.5" y1="92.5" x2="773.3" y2="92.5" stroke="#444" stroke-width="0.8"/>
<line x1="497.8" y1="81.7" x2="499.2" y2="81.7" stroke="#444" stroke-width="0.8"/>
<line x1="775.5" y1="81.7" x2="774.1" y2="81.7" stroke="#444" stroke-width="0.8"/>
<line x1="497.8" y1="70.9" x2="500" y2="70.9" stroke="#444" stroke-width="0.8"/>
<line x1="775.5" y1="70.9" x2="773.3" y2="70.9" stroke="#444" stroke-width="0.8"/>
<line x1="497.8" y1="60.1" x2="499.2" y2="60.1" stroke="#444" stroke-width="0.8"/>
<line x1="775.5" y1="60.1" x2="774.1" y2="60.1" stroke="#444" stroke-width="0.8"/>
<line x1="497.8" y1="49.3" x2="500" y2="49.3" stroke="#444" stroke-width="0.8"/>
<line x1="775.5" y1="49.3" x2="773.3" y2="49.3" stroke="#444" stroke-width="0.8"/>
<line x1="518.7" y1="136.2" x2="518.7" y2="134.8" stroke="#444" stroke-width="0.8"/>
<line x1="518.7" y1="38.1" x2="518.7" y2="39.5" stroke="#444" stroke-width="0.8"/>
<line x1="530.92" y1="136.2" x2="530.92" y2="134.8" stroke="#444" stroke-width="0.8"/>
<line x1="530.92" y1="38.1" x2="530.92" y2="39.5" stroke="#444" stroke-width="0.8"/>
<line x1="539.6" y1="136.2" x2="539.6" y2="134.8" stroke="#444" stroke-width="0.8"/>
<line x1="539.6" y1="38.1" x2="539.6" y2="39.5" stroke="#444" stroke-width="0.8"/>
<line x1="546.33" y1="136.2" x2="546.33" y2="134.8" stroke="#444" stroke-width="0.8"/>
<line x1="546.33" y1="38.1" x2="546.33" y2="39.5" stroke="#444" stroke-width="0.8"/>
<line x1="551.82" y1="136.2" x2="551.82" y2="134.8" stroke="#444" stroke-width="0.8"/>
<line x1="551.82" y1="38.1" x2="551.82" y2="39.5" stroke="#444" stroke-width="0.8"/>
<line x1="556.47" y1="136.2" x2="556.47" y2="134.8" stroke="#444" stroke-width="0.8"/>
<line x1="556.47" y1="38.1" x2="556.47" y2="39.5" stroke="#444" stroke-width="0.8"/>
<line x1="560.5" y1="136.2" x2="560.5" y2="134.8" stroke="#444" stroke-width="0.8"/>
<line x1="560.5" y1="38.1" x2="560.5" y2="39.5" stroke="#444" stroke-width="0.8"/>
<line x1="564.05" y1="136.2" x2="564.05" y2="134.8" stroke="#444" stroke-width="0.8"/>
<line x1="564.05" y1="38.1" x2="564.05" y2="39.5" stroke="#444" stroke-width="0.8"/>
<line x1="567.23" y1="136.2" x2="567.23" y2="133.8" stroke="#444" stroke-width="0.8"/>
<line x1="567.23" y1="38.1" x2="567.23" y2="40.5" stroke="#444" stroke-width="0.8"/>
<line x1="588.12" y1="136.2" x2="588.12" y2="134.8" stroke="#444" stroke-width="0.8"/>
<line x1="588.12" y1="38.1" x2="588.12" y2="39.5" stroke="#444" stroke-width="0.8"/>
<line x1="600.35" y1="136.2" x2="600.35" y2="134.8" stroke="#444" stroke-width="0.8"/>
<line x1="600.35" y1="38.1" x2="600.35" y2="39.5" stroke="#444" stroke-width="0.8"/>
<line x1="609.02" y1="136.2" x2="609.02" y2="134.8" stroke="#444" stroke-width="0.8"/>
<line x1="609.02" y1="38.1" x2="609.02" y2="39.5" stroke="#444" stroke-width="0.8"/>
<line x1="615.75" y1="136.2" x2="615.75" y2="134.8" stroke="#444" stroke-width="0.8"/>
<line x1="615.75" y1="38.1" x2="615.75" y2="39.5" stroke="#444" stroke-width="0.8"/>
<line x1="621.25" y1="136.2" x2="621.25" y2="134.8" stroke="#444" stroke-width="0.8"/>
<line x1="621.25" y1="38.1" x2="621.25" y2="39.5" stroke="#444" stroke-width="0.8"/>
<line x1="625.9" y1="136.2" x2="625.9" y2="134.8" stroke="#444" stroke-width="0.8"/>
<line x1="625.9" y1="38.1" x2="625.9" y2="39.5" stroke="#444" stroke-width="0.8"/>
<line x1="629.92" y1="136.2" x2="629.92" y2="134.8" stroke="#444" stroke-width="0.8"/>
<line x1="629.92" y1="38.1" x2="629.92" y2="39.5" stroke="#444" stroke-width="0.8"/>
<line x1="633.47" y1="136.2" x2="633.47" y2="134.8" stroke="#444" stroke-width="0.8"/>
<line x1="633.47" y1="38.1" x2="633.47" y2="39.5" stroke="#444" stroke-width="0.8"/>
<line x1="636.65" y1="136.2" x2="636.65" y2="133.8" stroke="#444" stroke-width="0.8"/>
<line x1="636.65" y1="38.1" x2="636.65" y2="40.5" stroke="#444" stroke-width="0.8"/>
<line x1="657.55" y1="136.2" x2="657.55" y2="134.8" stroke="#444" stroke-width="0.8"/>
<line x1="657.55" y1="38.1" x2="657.55" y2="39.5" stroke="#444" stroke-width="0.8"/>
<line x1="669.77" y1="136.2" x2="669.77" y2="134.8" stroke="#444" stroke-width="0.8"/>
<line x1="669.77" y1="38.1" x2="669.77" y2="39.5" stroke="#444" stroke-width="0.8"/>
<line x1="678.45" y1="136.2" x2="678.45" y2="134.8" stroke="#444" stroke-width="0.8"/>
<line x1="678.45" y1="38.1" x2="678.45" y2="39.5" stroke="#444" stroke-width="0.8"/>
<line x1="685.18" y1="136.2" x2="685.18" y2="134.8" stroke="#444" stroke-width="0.8"/>
<line x1="685.18" y1="38.1" x2="685.18" y2="39.5" stroke="#444" stroke-width="0.8"/>
<line x1="690.67" y1="136.2" x2="690.67" y2="134.8" stroke="#444" stroke-width="0.8"/>
<line x1="690.67" y1="38.1" x2="690.67" y2="39.5" stroke="#444" stroke-width="0.8"/>
<line x1="695.32" y1="136.2" x2="695.32" y2="134.8" stroke="#444" stroke-width="0.8"/>
<line x1="695.32" y1="38.1" x2="695.32" y2="39.5" stroke="#444" stroke-width="0.8"/>
<line x1="699.35" y1="136.2" x2="699.35" y2="134.8" stroke="#444" stroke-width="0.8"/>
<line x1="699.35" y1="38.1" x2="699.35" y2="39.5" stroke="#444" stroke-width="0.8"/>
<line x1="702.9" y1="136.2" x2="702.9" y2="134.8" stroke="#444" stroke-width="0.8"/>
<line x1="702.9" y1="38.1" x2="702.9" y2="39.5" stroke="#444" stroke-width="0.8"/>
<line x1="706.08" y1="136.2" x2="706.08" y2="133.8" stroke="#444" stroke-width="0.8"/>
<line x1="706.08" y1="38.1" x2="706.08" y2="40.5" stroke="#444" stroke-width="0.8"/>
<line x1="726.97" y1="136.2" x2="726.97" y2="134.8" stroke="#444" stroke-width="0.8"/>
<line x1="726.97" y1="38.1" x2="726.97" y2="39.5" stroke="#444" stroke-width="0.8"/>
<line x1="739.2" y1="136.2" x2="739.2" y2="134.8" stroke="#444" stroke-width="0.8"/>
<line x1="739.2" y1="38.1" x2="739.2" y2="39.5" stroke="#444" stroke-width="0.8"/>
<line x1="747.87" y1="136.2" x2="747.87" y2="134.8" stroke="#444" stroke-width="0.8"/>
<line x1="747.87" y1="38.1" x2="747.87" y2="39.5" stroke="#444" stroke-width="0.8"/>
<line x1="754.6" y1="136.2" x2="754.6" y2="134.8" stroke="#444" stroke-width="0.8"/>
<line x1="754.6" y1="38.1" x2="754.6" y2="39.5" stroke="#444" stroke-width="0.8"/>
<line x1="760.1" y1="136.2" x2="760.1" y2="134.8" stroke="#444" stroke-width="0.8"/>
<line x1="760.1" y1="38.1" x2="760.1" y2="39.5" stroke="#444" stroke-width="0.8"/>
<line x1="764.75" y1="136.2" x2="764.75" y2="134.8" stroke="#444" stroke-width="0.8"/>
<line x1="764.75" y1="38.1" x2="764.75" y2="39.5" stroke="#444" stroke-width="0.8"/>
<line x1="768.77" y1="136.2" x2="768.77" y2="134.8" stroke="#444" stroke-width="0.8"/>
<line x1="768.77" y1="38.1" x2="768.77" y2="39.5" stroke="#444" stroke-width="0.8"/>
<line x1="772.32" y1="136.2" x2="772.32" y2="134.8" stroke="#444" stroke-width="0.8"/>
<line x1="772.32" y1="38.1" x2="772.32" y2="39.5" stroke="#444" stroke-width="0.8"/>
<text x="499.2" y="145.2" font-size="8.6" text-anchor="middle" fill="#222" stroke="#333" stroke-width="0.25">0.01</text>
<text x="567.5" y="145.2" font-size="8.6" text-anchor="middle" fill="#222" stroke="#333" stroke-width="0.25">0.1</text>
<text x="636.3" y="145.2" font-size="8.6" text-anchor="middle" fill="#222" stroke="#333" stroke-width="0.25">1</text>
<text x="704.1" y="145.2" font-size="8.6" text-anchor="middle" fill="#222" stroke="#333" stroke-width="0.25">10</text>
<text x="776.6" y="145.2" font-size="8.6" text-anchor="middle" fill="#222" textLength="13.9" lengthAdjust="spacingAndGlyphs" stroke="#333" stroke-width="0.25">100</text>
<text x="494.8" y="52.3" font-size="8.6" text-anchor="end" fill="#222" stroke="#333" stroke-width="0.25">30</text>
<text x="494.8" y="73.2" font-size="8.6" text-anchor="end" fill="#222" stroke="#333" stroke-width="0.25">20</text>
<text x="494.8" y="95.4" font-size="8.6" text-anchor="end" fill="#222" stroke="#333" stroke-width="0.25">10</text>
<text x="494.8" y="116" font-size="8.6" text-anchor="end" fill="#222" stroke="#333" stroke-width="0.25">0</text>
<text x="494.8" y="135.6" font-size="8.6" text-anchor="end" fill="#222" stroke="#333" stroke-width="0.25">-10</text>
<text x="575" y="155.9" font-size="8.7" font-weight="bold" textLength="106.5" lengthAdjust="spacingAndGlyphs">Protein concentration <tspan font-style="italic">(μM)</tspan></text>
<text x="479.1" y="91.3" font-size="8.7" font-weight="bold" text-anchor="middle" transform="rotate(-90 479.1 91.3)">R<tspan font-size="5.6" dy="1.6">eq</tspan><tspan dy="-1.6" font-style="italic"> (RU)</tspan></text>
<path d="M496.1,240.7 498.5,240.7 500.8,240.7 503.2,240.7 505.5,240.6 507.9,240.6 510.3,240.6 512.6,240.5 515.0,240.5 517.3,240.4 519.7,240.4 522.1,240.3 524.4,240.3 526.8,240.2 529.1,240.1 531.5,240.1 533.9,240.0 536.2,239.9 538.6,239.8 540.9,239.7 543.3,239.6 545.7,239.5 548.0,239.4 550.4,239.3 552.7,239.1 555.1,239.0 557.5,238.8 559.8,238.6 562.2,238.5 564.5,238.3 566.9,238.0 569.2,237.8 571.6,237.6 574.0,237.3 576.3,237.0 578.7,236.7 581.0,236.4 583.4,236.0 585.8,235.7 588.1,235.3 590.5,234.9 592.8,234.4 595.2,233.9 597.6,233.4 599.9,232.9 602.3,232.3 604.6,231.7 607.0,231.1 609.4,230.4 611.7,229.7 614.1,229.0 616.4,228.2 618.8,227.4 621.2,226.5 623.5,225.7 625.9,224.7 628.2,223.8 630.6,222.8 633.0,221.7 635.3,220.7 637.7,219.6 640.0,218.5 642.4,217.3 644.8,216.1 647.1,214.9 649.5,213.7 651.8,212.5 654.2,211.2 656.6,210.0 658.9,208.7 661.3,207.5 663.6,206.2 666.0,205.0 668.4,203.8 670.7,202.5 673.1,201.3 675.4,200.2 677.8,199.0 680.2,197.9 682.5,196.8 684.9,195.7 687.2,194.7 689.6,193.7 692.0,192.7 694.3,191.8 696.7,190.9 699.0,190.0 701.4,189.2 703.8,188.4 706.1,187.6 708.5,186.9 710.8,186.3 713.2,185.6 715.5,185.0 717.9,184.4 720.3,183.9 722.6,183.4 725.0,182.9 727.3,182.5 729.7,182.0 732.1,181.6 734.4,181.3 736.8,180.9 739.1,180.6 741.5,180.3 743.9,180.0 746.2,179.7 748.6,179.5 750.9,179.3 753.3,179.0 755.7,178.8 758.0,178.6 760.4,178.5 762.7,178.3 765.1,178.2 767.5,178.0 769.8,177.9 772.2,177.8 774.5,177.6 776.9,177.5" fill="none" stroke="#333" stroke-width="1.0" stroke-linejoin="round"/>
<rect x="496.1" y="164.5" width="280.8" height="98.8" fill="none" stroke="#3a3a3a" stroke-width="1.0"/>
<line x1="496.1" y1="252.29" x2="497.5" y2="252.29" stroke="#444" stroke-width="0.8"/>
<line x1="776.9" y1="252.29" x2="775.5" y2="252.29" stroke="#444" stroke-width="0.8"/>
<line x1="496.1" y1="241.04" x2="498.3" y2="241.04" stroke="#444" stroke-width="0.8"/>
<line x1="776.9" y1="241.04" x2="774.7" y2="241.04" stroke="#444" stroke-width="0.8"/>
<line x1="496.1" y1="229.78" x2="497.5" y2="229.78" stroke="#444" stroke-width="0.8"/>
<line x1="776.9" y1="229.78" x2="775.5" y2="229.78" stroke="#444" stroke-width="0.8"/>
<line x1="496.1" y1="218.53" x2="498.3" y2="218.53" stroke="#444" stroke-width="0.8"/>
<line x1="776.9" y1="218.53" x2="774.7" y2="218.53" stroke="#444" stroke-width="0.8"/>
<line x1="496.1" y1="207.28" x2="497.5" y2="207.28" stroke="#444" stroke-width="0.8"/>
<line x1="776.9" y1="207.28" x2="775.5" y2="207.28" stroke="#444" stroke-width="0.8"/>
<line x1="496.1" y1="196.02" x2="498.3" y2="196.02" stroke="#444" stroke-width="0.8"/>
<line x1="776.9" y1="196.02" x2="774.7" y2="196.02" stroke="#444" stroke-width="0.8"/>
<line x1="496.1" y1="184.77" x2="497.5" y2="184.77" stroke="#444" stroke-width="0.8"/>
<line x1="776.9" y1="184.77" x2="775.5" y2="184.77" stroke="#444" stroke-width="0.8"/>
<line x1="496.1" y1="173.51" x2="498.3" y2="173.51" stroke="#444" stroke-width="0.8"/>
<line x1="776.9" y1="173.51" x2="774.7" y2="173.51" stroke="#444" stroke-width="0.8"/>
<line x1="517.23" y1="263.3" x2="517.23" y2="261.9" stroke="#444" stroke-width="0.8"/>
<line x1="517.23" y1="164.5" x2="517.23" y2="165.9" stroke="#444" stroke-width="0.8"/>
<line x1="529.59" y1="263.3" x2="529.59" y2="261.9" stroke="#444" stroke-width="0.8"/>
<line x1="529.59" y1="164.5" x2="529.59" y2="165.9" stroke="#444" stroke-width="0.8"/>
<line x1="538.36" y1="263.3" x2="538.36" y2="261.9" stroke="#444" stroke-width="0.8"/>
<line x1="538.36" y1="164.5" x2="538.36" y2="165.9" stroke="#444" stroke-width="0.8"/>
<line x1="545.17" y1="263.3" x2="545.17" y2="261.9" stroke="#444" stroke-width="0.8"/>
<line x1="545.17" y1="164.5" x2="545.17" y2="165.9" stroke="#444" stroke-width="0.8"/>
<line x1="550.73" y1="263.3" x2="550.73" y2="261.9" stroke="#444" stroke-width="0.8"/>
<line x1="550.73" y1="164.5" x2="550.73" y2="165.9" stroke="#444" stroke-width="0.8"/>
<line x1="555.43" y1="263.3" x2="555.43" y2="261.9" stroke="#444" stroke-width="0.8"/>
<line x1="555.43" y1="164.5" x2="555.43" y2="165.9" stroke="#444" stroke-width="0.8"/>
<line x1="559.5" y1="263.3" x2="559.5" y2="261.9" stroke="#444" stroke-width="0.8"/>
<line x1="559.5" y1="164.5" x2="559.5" y2="165.9" stroke="#444" stroke-width="0.8"/>
<line x1="563.09" y1="263.3" x2="563.09" y2="261.9" stroke="#444" stroke-width="0.8"/>
<line x1="563.09" y1="164.5" x2="563.09" y2="165.9" stroke="#444" stroke-width="0.8"/>
<line x1="566.3" y1="263.3" x2="566.3" y2="260.9" stroke="#444" stroke-width="0.8"/>
<line x1="566.3" y1="164.5" x2="566.3" y2="166.9" stroke="#444" stroke-width="0.8"/>
<line x1="587.43" y1="263.3" x2="587.43" y2="261.9" stroke="#444" stroke-width="0.8"/>
<line x1="587.43" y1="164.5" x2="587.43" y2="165.9" stroke="#444" stroke-width="0.8"/>
<line x1="599.79" y1="263.3" x2="599.79" y2="261.9" stroke="#444" stroke-width="0.8"/>
<line x1="599.79" y1="164.5" x2="599.79" y2="165.9" stroke="#444" stroke-width="0.8"/>
<line x1="608.56" y1="263.3" x2="608.56" y2="261.9" stroke="#444" stroke-width="0.8"/>
<line x1="608.56" y1="164.5" x2="608.56" y2="165.9" stroke="#444" stroke-width="0.8"/>
<line x1="615.37" y1="263.3" x2="615.37" y2="261.9" stroke="#444" stroke-width="0.8"/>
<line x1="615.37" y1="164.5" x2="615.37" y2="165.9" stroke="#444" stroke-width="0.8"/>
<line x1="620.93" y1="263.3" x2="620.93" y2="261.9" stroke="#444" stroke-width="0.8"/>
<line x1="620.93" y1="164.5" x2="620.93" y2="165.9" stroke="#444" stroke-width="0.8"/>
<line x1="625.63" y1="263.3" x2="625.63" y2="261.9" stroke="#444" stroke-width="0.8"/>
<line x1="625.63" y1="164.5" x2="625.63" y2="165.9" stroke="#444" stroke-width="0.8"/>
<line x1="629.7" y1="263.3" x2="629.7" y2="261.9" stroke="#444" stroke-width="0.8"/>
<line x1="629.7" y1="164.5" x2="629.7" y2="165.9" stroke="#444" stroke-width="0.8"/>
<line x1="633.29" y1="263.3" x2="633.29" y2="261.9" stroke="#444" stroke-width="0.8"/>
<line x1="633.29" y1="164.5" x2="633.29" y2="165.9" stroke="#444" stroke-width="0.8"/>
<line x1="636.5" y1="263.3" x2="636.5" y2="260.9" stroke="#444" stroke-width="0.8"/>
<line x1="636.5" y1="164.5" x2="636.5" y2="166.9" stroke="#444" stroke-width="0.8"/>
<line x1="657.63" y1="263.3" x2="657.63" y2="261.9" stroke="#444" stroke-width="0.8"/>
<line x1="657.63" y1="164.5" x2="657.63" y2="165.9" stroke="#444" stroke-width="0.8"/>
<line x1="669.99" y1="263.3" x2="669.99" y2="261.9" stroke="#444" stroke-width="0.8"/>
<line x1="669.99" y1="164.5" x2="669.99" y2="165.9" stroke="#444" stroke-width="0.8"/>
<line x1="678.76" y1="263.3" x2="678.76" y2="261.9" stroke="#444" stroke-width="0.8"/>
<line x1="678.76" y1="164.5" x2="678.76" y2="165.9" stroke="#444" stroke-width="0.8"/>
<line x1="685.57" y1="263.3" x2="685.57" y2="261.9" stroke="#444" stroke-width="0.8"/>
<line x1="685.57" y1="164.5" x2="685.57" y2="165.9" stroke="#444" stroke-width="0.8"/>
<line x1="691.13" y1="263.3" x2="691.13" y2="261.9" stroke="#444" stroke-width="0.8"/>
<line x1="691.13" y1="164.5" x2="691.13" y2="165.9" stroke="#444" stroke-width="0.8"/>
<line x1="695.83" y1="263.3" x2="695.83" y2="261.9" stroke="#444" stroke-width="0.8"/>
<line x1="695.83" y1="164.5" x2="695.83" y2="165.9" stroke="#444" stroke-width="0.8"/>
<line x1="699.9" y1="263.3" x2="699.9" y2="261.9" stroke="#444" stroke-width="0.8"/>
<line x1="699.9" y1="164.5" x2="699.9" y2="165.9" stroke="#444" stroke-width="0.8"/>
<line x1="703.49" y1="263.3" x2="703.49" y2="261.9" stroke="#444" stroke-width="0.8"/>
<line x1="703.49" y1="164.5" x2="703.49" y2="165.9" stroke="#444" stroke-width="0.8"/>
<line x1="706.7" y1="263.3" x2="706.7" y2="260.9" stroke="#444" stroke-width="0.8"/>
<line x1="706.7" y1="164.5" x2="706.7" y2="166.9" stroke="#444" stroke-width="0.8"/>
<line x1="727.83" y1="263.3" x2="727.83" y2="261.9" stroke="#444" stroke-width="0.8"/>
<line x1="727.83" y1="164.5" x2="727.83" y2="165.9" stroke="#444" stroke-width="0.8"/>
<line x1="740.19" y1="263.3" x2="740.19" y2="261.9" stroke="#444" stroke-width="0.8"/>
<line x1="740.19" y1="164.5" x2="740.19" y2="165.9" stroke="#444" stroke-width="0.8"/>
<line x1="748.96" y1="263.3" x2="748.96" y2="261.9" stroke="#444" stroke-width="0.8"/>
<line x1="748.96" y1="164.5" x2="748.96" y2="165.9" stroke="#444" stroke-width="0.8"/>
<line x1="755.77" y1="263.3" x2="755.77" y2="261.9" stroke="#444" stroke-width="0.8"/>
<line x1="755.77" y1="164.5" x2="755.77" y2="165.9" stroke="#444" stroke-width="0.8"/>
<line x1="761.33" y1="263.3" x2="761.33" y2="261.9" stroke="#444" stroke-width="0.8"/>
<line x1="761.33" y1="164.5" x2="761.33" y2="165.9" stroke="#444" stroke-width="0.8"/>
<line x1="766.03" y1="263.3" x2="766.03" y2="261.9" stroke="#444" stroke-width="0.8"/>
<line x1="766.03" y1="164.5" x2="766.03" y2="165.9" stroke="#444" stroke-width="0.8"/>
<line x1="770.1" y1="263.3" x2="770.1" y2="261.9" stroke="#444" stroke-width="0.8"/>
<line x1="770.1" y1="164.5" x2="770.1" y2="165.9" stroke="#444" stroke-width="0.8"/>
<line x1="773.69" y1="263.3" x2="773.69" y2="261.9" stroke="#444" stroke-width="0.8"/>
<line x1="773.69" y1="164.5" x2="773.69" y2="165.9" stroke="#444" stroke-width="0.8"/>
<text x="503" y="273.8" font-size="8.6" text-anchor="middle" fill="#222" stroke="#333" stroke-width="0.25">0.01</text>
<text x="570.1" y="273.8" font-size="8.6" text-anchor="middle" fill="#222" stroke="#333" stroke-width="0.25">0.1</text>
<text x="637.4" y="273.8" font-size="8.6" text-anchor="middle" fill="#222" stroke="#333" stroke-width="0.25">1</text>
<text x="703.9" y="273.8" font-size="8.6" text-anchor="middle" fill="#222" stroke="#333" stroke-width="0.25">10</text>
<text x="775.1" y="273.8" font-size="8.6" text-anchor="middle" fill="#222" textLength="13.9" lengthAdjust="spacingAndGlyphs" stroke="#333" stroke-width="0.25">100</text>
<text x="494.1" y="177.7" font-size="8.6" text-anchor="end" fill="#222" stroke="#333" stroke-width="0.25">30</text>
<text x="494.1" y="198.8" font-size="8.6" text-anchor="end" fill="#222" stroke="#333" stroke-width="0.25">20</text>
<text x="494.1" y="219.6" font-size="8.6" text-anchor="end" fill="#222" stroke="#333" stroke-width="0.25">10</text>
<text x="494.1" y="241.2" font-size="8.6" text-anchor="end" fill="#222" stroke="#333" stroke-width="0.25">0</text>
<text x="494.1" y="265.3" font-size="8.6" text-anchor="end" fill="#222" stroke="#333" stroke-width="0.25">-10</text>
<text x="577.5" y="284.9" font-size="8.7" font-weight="bold" textLength="106.5" lengthAdjust="spacingAndGlyphs">Protein concentration <tspan font-style="italic">(μM)</tspan></text>
<text x="479.7" y="216.7" font-size="8.7" font-weight="bold" text-anchor="middle" transform="rotate(-90 479.7 216.7)">R<tspan font-size="5.6" dy="1.6">eq</tspan><tspan dy="-1.6" font-style="italic"> (RU)</tspan></text>
</svg>
<svg width="784" height="290" viewBox="0 0 784 290">
<circle cx="517.9" cy="113.9" r="2.2" fill="#b3161d"/>
<circle cx="538.8" cy="112.6" r="2.2" fill="#b3161d"/>
<circle cx="559.8" cy="110.6" r="2.2" fill="#b3161d"/>
<circle cx="580.4" cy="106.9" r="2.2" fill="#b3161d"/>
<circle cx="601.3" cy="101.9" r="2.2" fill="#b3161d"/>
<circle cx="622.2" cy="95.6" r="2.2" fill="#b3161d"/>
<circle cx="643" cy="88.3" r="2.2" fill="#b3161d"/>
<circle cx="664" cy="77" r="2.2" fill="#b3161d"/>
<circle cx="685" cy="68" r="2.2" fill="#b3161d"/>
<circle cx="705.8" cy="58.6" r="2.2" fill="#b3161d"/>
<circle cx="516.8" cy="241" r="2.2" fill="#b3161d"/>
<circle cx="538" cy="240.1" r="2.2" fill="#b3161d"/>
<circle cx="559" cy="238.9" r="2.2" fill="#b3161d"/>
<circle cx="580" cy="236.1" r="2.2" fill="#b3161d"/>
<circle cx="600.9" cy="232.3" r="2.2" fill="#b3161d"/>
<circle cx="622.2" cy="226.1" r="2.2" fill="#b3161d"/>
<circle cx="643.5" cy="214.8" r="2.2" fill="#b3161d"/>
<circle cx="664.7" cy="206.8" r="2.2" fill="#b3161d"/>
<circle cx="685.7" cy="196.9" r="2.2" fill="#b3161d"/>
<circle cx="706.8" cy="186.7" r="2.2" fill="#b3161d"/>
</svg>
</body></html>
